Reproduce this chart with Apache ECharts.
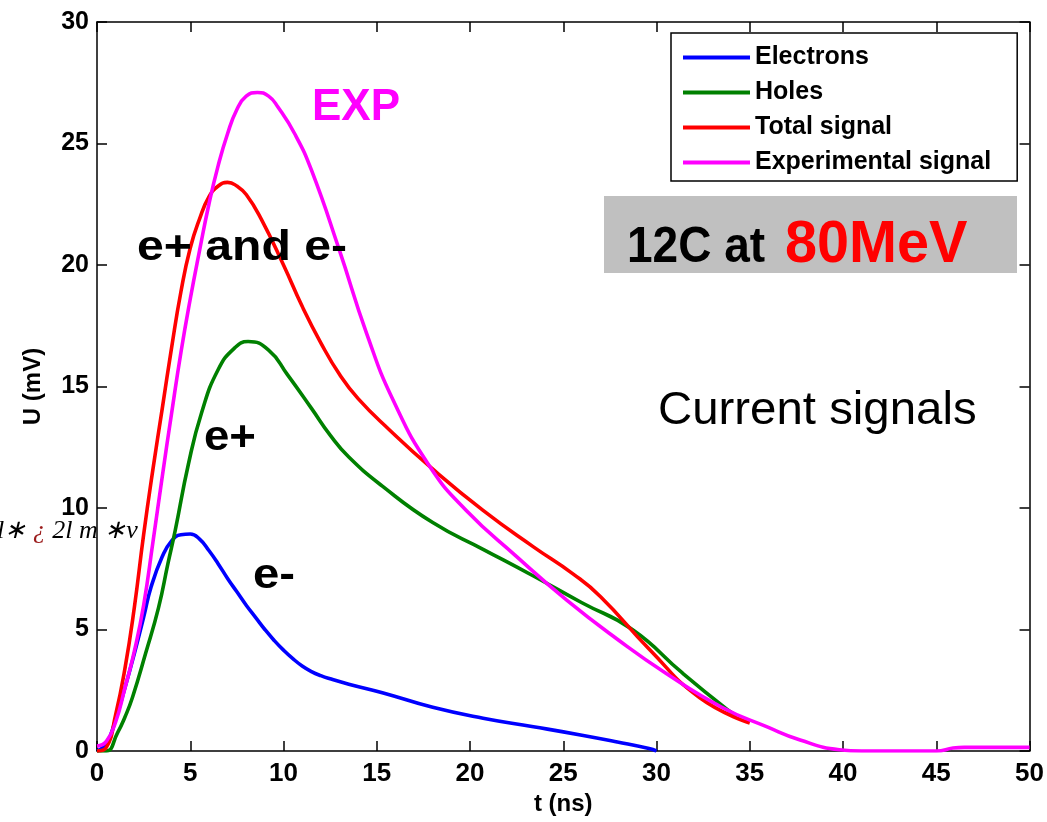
<!DOCTYPE html>
<html>
<head>
<meta charset="utf-8">
<script src="https://cdn.jsdelivr.net/npm/echarts@6/dist/echarts.min.js"></script>
<style>html,body{margin:0;padding:0;background:#fff;}#c{width:1047px;height:822px;}</style>
</head>
<body>
<div id="c"></div>
<script>
// ---- data ----
const xTicks = [0, 5, 10, 15, 20, 25, 30, 35, 40, 45, 50];
const yTicks = [0, 5, 10, 15, 20, 25, 30];
const seriesNames = ['Electrons', 'Holes', 'Total signal', 'Experimental signal'];

const electronsT = [0, 0.5, 1.0, 1.5, 2.0, 2.5, 2.9, 3.5, 4.0, 4.5, 5.0, 5.5, 6.0, 6.5, 7.0, 7.5, 8.0, 8.5, 9.0, 9.5, 10.0, 10.5, 11.0, 11.5, 12.0, 12.5, 13.5, 15.3, 18.0, 20.7, 23.4, 26.0, 27.9, 29.6, 30.0];
const electronsU = [0, 0.3, 1.3, 2.6, 4.0, 5.5, 6.75, 8.0, 8.65, 8.9, 8.93, 8.72, 8.25, 7.7, 7.1, 6.55, 6.0, 5.5, 5.0, 4.55, 4.15, 3.8, 3.5, 3.27, 3.1, 2.97, 2.75, 2.4, 1.8, 1.35, 1.0, 0.65, 0.37, 0.1, 0];

const holesT = [0, 0.5, 1.1, 1.5, 1.9, 2.6, 3.3, 3.8, 4.2, 4.9, 5.6, 6.5, 7.4, 8.1, 9.2, 10.2, 11.5, 12.5, 13.5, 15.3, 18.0, 20.7, 23.4, 26.0, 28.7, 31.4, 33.8, 34.3];
const holesU = [0, 0, 0.75, 1.4, 2.2, 4.0, 5.9, 7.7, 9.1, 11.8, 13.9, 15.7, 16.6, 16.85, 16.5, 15.5, 14.1, 13.0, 12.1, 10.9, 9.4, 8.3, 7.2, 6.1, 5.0, 3.2, 1.7, 1.45];

const totalT = [0, 0.5, 1.0, 1.5, 2.0, 2.5, 3.0, 3.5, 4.0, 4.5, 5.0, 5.5, 6.0, 6.5, 7.0, 7.5, 8.0, 8.8, 10.0, 11.0, 12.0, 13.0, 14.0, 15.7, 17.85, 20.7, 23.4, 25.5, 27.0, 29.6, 32.3, 35.0];
const totalU = [0, 0.15, 1.5, 3.4, 5.9, 8.9, 11.6, 14.1, 16.6, 18.9, 20.7, 21.9, 22.8, 23.25, 23.4, 23.25, 22.9, 21.9, 20.0, 18.3, 16.8, 15.5, 14.5, 13.2, 11.7, 9.9, 8.4, 7.3, 6.35, 4.2, 2.2, 1.15];

const expT = [0, 0.5, 1.0, 1.5, 2.0, 2.5, 3.0, 3.5, 4.0, 4.5, 5.0, 5.5, 6.0, 6.5, 7.0, 7.5, 8.0, 8.6, 9.2, 9.7, 10.6, 11.5, 13.0, 14.45, 15.9, 17.85, 19.8, 22.5, 25.2, 27.9, 30.5, 33.5, 35.9, 37.7, 39.8, 41.0, 45.0, 45.9, 46.5, 50.0];
const expU = [0.2, 0.4, 1.2, 2.6, 4.1, 6.0, 8.6, 11.3, 13.9, 16.4, 18.6, 20.6, 22.5, 24.1, 25.4, 26.4, 26.95, 27.1, 26.95, 26.5, 25.4, 23.9, 20.6, 17.2, 14.4, 11.7, 9.9, 8.0, 6.2, 4.6, 3.2, 1.8, 1.0, 0.45, 0.05, 0, 0, 0.12, 0.15, 0.15];

const colors = ['#0000ff', '#008000', '#ff0000', '#ff00ff'];
// ---------------------------------------

const zip = (a, b) => a.map((v, i) => [v, b[i]]);
const allData = [zip(electronsT, electronsU), zip(holesT, holesU), zip(totalT, totalU), zip(expT, expU)];

const SANS = 'Liberation Sans, Arial, Helvetica, sans-serif';
const NARROW = 'Liberation Sans Narrow, Arial Narrow, Liberation Sans, sans-serif';

const chart = echarts.init(document.getElementById('c'));

const axisCommon = {
  axisLine: { show: true, onZero: false, lineStyle: { color: '#000', width: 1.5 } },
  axisTick: { show: true, inside: true, length: 10, lineStyle: { color: '#000', width: 1.5 } },
  splitLine: { show: false }
};

const option = {
  animation: false,
  backgroundColor: '#fff',
  grid: { left: 97, right: 17, top: 22, bottom: 71, containLabel: false },
  xAxis: [
    Object.assign({}, axisCommon, {
      type: 'value', position: 'bottom', min: xTicks[0], max: xTicks[xTicks.length - 1], interval: 5,
      name: 't (ns)', nameLocation: 'middle', nameGap: 38,
      nameTextStyle: { fontFamily: NARROW, fontSize: 24, fontWeight: 'bold', color: '#000' },
      axisLabel: { margin: 10, fontFamily: NARROW, fontSize: 26, fontWeight: 'bold', color: '#000' }
    }),
    Object.assign({}, axisCommon, {
      type: 'value', position: 'top', min: xTicks[0], max: xTicks[xTicks.length - 1], interval: 5,
      axisLabel: { show: false }
    })
  ],
  yAxis: [
    Object.assign({}, axisCommon, {
      type: 'value', position: 'left', min: yTicks[0], max: yTicks[yTicks.length - 1], interval: 5,
      name: 'U (mV)', nameLocation: 'middle', nameGap: 52,
      nameTextStyle: { fontFamily: SANS, fontSize: 24, fontWeight: 'bold', color: '#000' },
      axisLabel: { margin: 8, fontFamily: SANS, fontSize: 25, fontWeight: 'bold', color: '#000' }
    }),
    Object.assign({}, axisCommon, {
      type: 'value', position: 'right', min: yTicks[0], max: yTicks[yTicks.length - 1], interval: 5,
      axisLabel: { show: false }
    })
  ],
  legend: {
    orient: 'vertical', left: 671, top: 33,
    backgroundColor: '#fff', borderColor: '#000', borderWidth: 1.5,
    padding: [12, 26, 6, 12],
    icon: 'rect',
    itemWidth: 67, itemHeight: 4, itemGap: 10,
    textStyle: { fontFamily: SANS, fontSize: 25, fontWeight: 'bold', color: '#000', lineHeight: 25 },
    data: seriesNames
  },
  series: seriesNames.map((n, i) => ({
    name: n, type: 'line', data: allData[i], xAxisIndex: 0, yAxisIndex: 0,
    symbol: 'none', smooth: 0.5, color: colors[i],
    lineStyle: { color: colors[i], width: 3.6 }
  })),
  graphic: [
    { type: 'rect', shape: { x: 604, y: 196, width: 413, height: 77 }, style: { fill: '#c0c0c0' }, z: 50 },
    { type: 'text', x: 627, y: 273, scaleX: 0.92, z: 51,
      style: { text: '12C at', x: 0, y: 0, font: 'bold 50px ' + SANS, fill: '#000', verticalAlign: 'bottom' } },
    { type: 'text', x: 785, y: 275, scaleX: 0.96, z: 51,
      style: { text: '80MeV', x: 0, y: 0, font: 'bold 60px ' + SANS, fill: '#ff0000', verticalAlign: 'bottom' } },
    { type: 'text', x: 312, y: 130, z: 51,
      style: { text: 'EXP', x: 0, y: 0, font: 'bold 44px ' + SANS, fill: '#ff00ff', verticalAlign: 'bottom' } },
    { type: 'text', x: 137, y: 270, scaleX: 1.12, z: 51,
      style: { text: 'e+ and e-', x: 0, y: 0, font: 'bold 43px ' + SANS, fill: '#000', verticalAlign: 'bottom' } },
    { type: 'text', x: 204, y: 460, scaleX: 1.06, z: 51,
      style: { text: 'e+', x: 0, y: 0, font: 'bold 43px ' + SANS, fill: '#000', verticalAlign: 'bottom' } },
    { type: 'text', x: 253, y: 598, scaleX: 1.1, z: 51,
      style: { text: 'e-', x: 0, y: 0, font: 'bold 43px ' + SANS, fill: '#000', verticalAlign: 'bottom' } },
    { type: 'text', x: 658, y: 434, scaleX: 1.03, z: 51,
      style: { text: 'Current signals', x: 0, y: 0, font: '46px ' + SANS, fill: '#000', verticalAlign: 'bottom' } },
    { type: 'text', x: -3, y: 544, z: 51,
      style: { text: '{a|l∗ }{b|¿}{a| 2l m ∗v}', x: 0, y: 0, verticalAlign: 'bottom',
        rich: {
          a: { fontFamily: 'Liberation Serif, Times New Roman, serif', fontStyle: 'italic', fontSize: 26, fill: '#000' },
          b: { fontFamily: 'Liberation Serif, Times New Roman, serif', fontStyle: 'italic', fontSize: 26, fill: '#9b1c1c' }
        } } }
  ]
};
chart.setOption(option);
</script>
</body>
</html>
